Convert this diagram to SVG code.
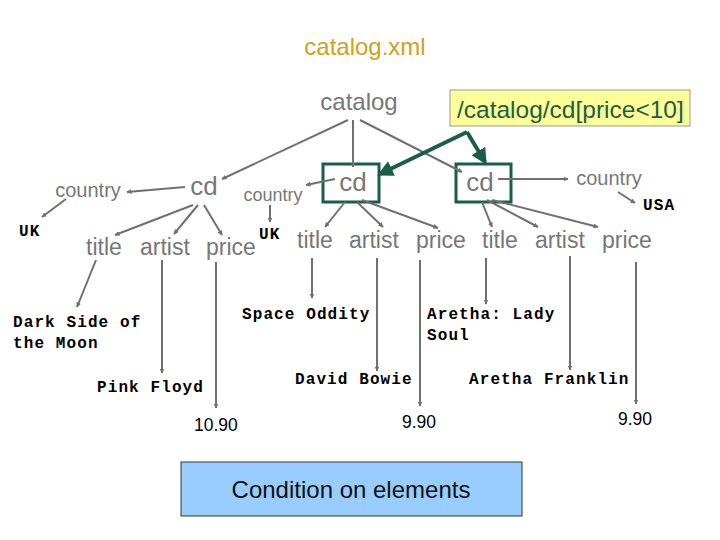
<svg xmlns="http://www.w3.org/2000/svg" width="720" height="540" viewBox="0 0 720 540">
<defs>
<marker id="ga" viewBox="0 0 10 10" refX="9" refY="5" markerWidth="5" markerHeight="5" orient="auto" markerUnits="userSpaceOnUse">
<path d="M0,0 L10,5 L0,10 z" fill="#707070"/>
</marker>
<marker id="gr" viewBox="0 0 10 10" refX="8" refY="5" markerWidth="4" markerHeight="4" orient="auto">
<path d="M0,0 L10,5 L0,10 z" fill="#1b5e46"/>
</marker>
<style>
.e{font-family:"Liberation Sans",Arial,sans-serif;fill:#777777}
.v{font-family:"Liberation Mono","Courier New",monospace;font-weight:bold;font-size:16px;letter-spacing:1.1px;fill:#000}
.n{font-family:"Liberation Sans",Arial,sans-serif;font-size:17.5px;fill:#000}
.c line,.c path{stroke:#707070;stroke-width:2;fill:none;marker-end:url(#ga)}
.box{fill:none;stroke:#1b5e46;stroke-width:3}
</style>
</defs>
<rect width="720" height="540" fill="#fff"/>
<text x="365" y="55" text-anchor="middle" font-family="Liberation Sans,Arial,sans-serif" font-size="24" fill="#D4A017">catalog.xml</text>
<g id="catalog"><text class="e" x="359" y="110" text-anchor="middle" font-size="24">catalog</text></g>
<g id="query"><rect x="450" y="90" width="240" height="36" fill="#FFFF99" stroke="#999"/><text x="457" y="118" font-family="Liberation Sans,Arial,sans-serif" font-size="24.5" fill="#1b5e46">/catalog/cd[price&lt;10]</text></g>
<g id="cd0"><text class="e" x="204" y="195" text-anchor="middle" font-size="26">cd</text></g>
<g id="country0"><text class="e" x="88" y="197" text-anchor="middle" font-size="20">country</text></g>
<g id="uk0"><text class="v" x="19" y="236">UK</text></g>
<g id="title0"><text class="e" x="86" y="255" font-size="23">title</text></g>
<g id="artist0"><text class="e" x="140" y="255" font-size="23">artist</text></g>
<g id="price0"><text class="e" x="206" y="255" font-size="23">price</text></g>
<g id="cd1"><rect class="box" x="323" y="164" width="56" height="38"/><text class="e" x="353" y="191" text-anchor="middle" font-size="26">cd</text></g>
<g id="country1"><text class="e" x="273" y="201" text-anchor="middle" font-size="18">country</text></g>
<g id="uk1"><text class="v" x="259" y="239">UK</text></g>
<g id="title1"><text class="e" x="297" y="248" font-size="23">title</text></g>
<g id="artist1"><text class="e" x="349" y="248" font-size="23">artist</text></g>
<g id="price1"><text class="e" x="416" y="248" font-size="23">price</text></g>
<g id="cd2"><rect class="box" x="456" y="164" width="55" height="38"/><text class="e" x="480" y="191" text-anchor="middle" font-size="26">cd</text></g>
<g id="country2"><text class="e" x="609" y="185" text-anchor="middle" font-size="20">country</text></g>
<g id="usa"><text class="v" x="643" y="210">USA</text></g>
<g id="title2"><text class="e" x="482" y="248" font-size="23">title</text></g>
<g id="artist2"><text class="e" x="535" y="248" font-size="23">artist</text></g>
<g id="price2"><text class="e" x="602" y="248" font-size="23">price</text></g>
<g id="v_dark"><text class="v" x="13" y="327">Dark Side of</text><text class="v" x="13" y="348">the Moon</text></g>
<g id="v_pink"><text class="v" x="97" y="392">Pink Floyd</text></g>
<g id="v_1090"><text class="n" x="194" y="431">10.90</text></g>
<g id="v_space"><text class="v" x="242" y="319">Space Oddity</text></g>
<g id="v_bowie"><text class="v" x="295" y="384">David Bowie</text></g>
<g id="v_990a"><text class="n" x="402" y="428">9.90</text></g>
<g id="v_aretha"><text class="v" x="427" y="319">Aretha: Lady</text><text class="v" x="427" y="340">Soul</text></g>
<g id="v_franklin"><text class="v" x="469" y="384">Aretha Franklin</text></g>
<g id="v_990b"><text class="n" x="618" y="425">9.90</text></g>
<g id="note"><rect x="181" y="462" width="341" height="54" fill="#99CCFF" stroke="#333"/><text x="351" y="498" text-anchor="middle" font-family="Liberation Sans,Arial,sans-serif" font-size="24" fill="#111">Condition on elements</text></g>
<g id="connectors" class="c">
<line x1="348" y1="120" x2="222" y2="179"/>
<line x1="353" y1="120" x2="353" y2="167"/>
<line x1="360" y1="120" x2="462" y2="172"/>
<line x1="185" y1="187" x2="127" y2="192"/>
<line x1="66" y1="199" x2="42" y2="217"/>
<line x1="193" y1="205" x2="115" y2="235"/>
<line x1="198" y1="205" x2="174" y2="234"/>
<line x1="204" y1="205" x2="222" y2="235"/>
<line x1="335" y1="179" x2="306" y2="185"/>
<line x1="270" y1="205" x2="270" y2="222"/>
<line x1="345" y1="202" x2="325" y2="227"/>
<line x1="357" y1="202" x2="383" y2="227"/>
<line x1="362" y1="200" x2="438" y2="228"/>
<line x1="498" y1="179" x2="568" y2="179"/>
<line x1="618" y1="192" x2="635" y2="203"/>
<line x1="482" y1="202" x2="492" y2="227"/>
<line x1="487" y1="200" x2="538" y2="227"/>
<line x1="492" y1="200" x2="598" y2="227"/>
<line x1="96" y1="260" x2="77" y2="307"/>
<line x1="162" y1="260" x2="162" y2="373"/>
<line x1="216" y1="262" x2="216" y2="408"/>
<line x1="312" y1="258" x2="312" y2="298"/>
<line x1="377" y1="258" x2="377" y2="371"/>
<line x1="420" y1="260" x2="420" y2="406"/>
<line x1="486" y1="258" x2="486" y2="304"/>
<line x1="570" y1="256" x2="570" y2="370"/>
<line x1="636" y1="262" x2="636" y2="404"/>
<path d="M467,132 L380,174" style="stroke:#1b5e46;stroke-width:4;marker-end:url(#gr)"/>
<path d="M467,132 L485,162" style="stroke:#1b5e46;stroke-width:4;marker-end:url(#gr)"/>
</g>
</svg>
